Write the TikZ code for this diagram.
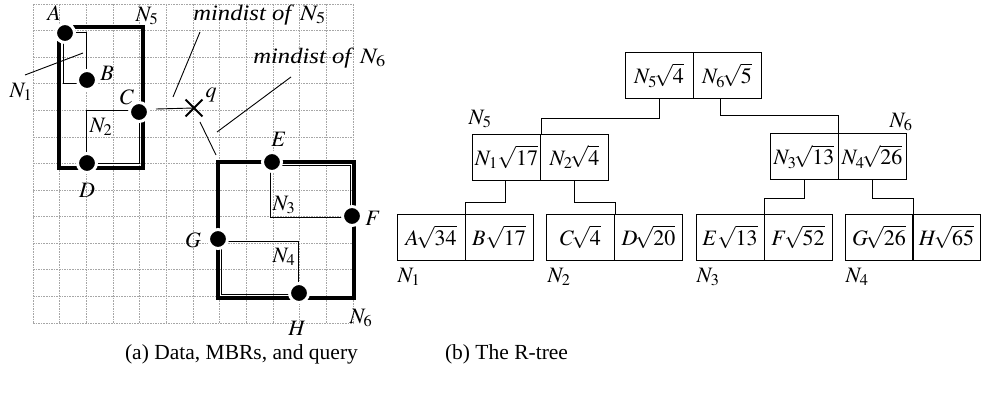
\documentclass[tikz,border=0pt]{standalone}
\usepackage{mathptmx}
\usepackage{fontspec}
\setmainfont{Liberation Serif}
\usetikzlibrary{shapes.misc,calc}
\newcommand{\widen}[1]{\scalebox{1.12}[1]{#1}}
\begin{document}
\begin{tikzpicture}[x=1pt,y=-1pt,
  every node/.style={font=\fontsize{22}{26}\selectfont, inner sep=0pt},
  capt/.style={font=\fontsize{21.5}{26}\selectfont},
  gridline/.style={gray!70, line width=0.8pt, dash pattern=on 1.6pt off 1pt},
  mbr/.style={line width=4pt, line join=miter},
  sub/.style={line width=0.9pt},
  dot/.style={circle, fill=black, draw=white, line width=3pt, minimum size=19pt},
  cell/.style={draw, line width=0.9pt, minimum width=68pt, minimum height=46pt},
  link/.style={line width=0.9pt}]
\useasboundingbox (0,0) rectangle (981,395);
% grid
\foreach \i in {0,...,12} {
  \draw[gridline] ({33+\i*26.667},4) -- ({33+\i*26.667},323);
  \draw[gridline] (33,{4+\i*26.583}) -- (353,{4+\i*26.583});
}
% MBRs
\draw[mbr] (59,27) rectangle (143,168);
\draw[mbr] (218,162) rectangle (354,298);
\draw[sub] (63.5,32) rectangle (86,83);
\draw[sub] (86,110) rectangle (139.5,163.5);
\draw[sub] (270,165.5) rectangle (350.5,217);
\draw[sub] (221.5,241) rectangle (298,294.5);
% leaders
\coordinate (m5a) at (200,32); \coordinate (m5b) at (173,97);
\coordinate (m6a) at (291,77); \coordinate (m6b) at (217,132);
\coordinate (n1a) at (25,75); \coordinate (n1b) at (83,53);
\coordinate (cq) at (156,109);
\coordinate (qa) at (200,122); \coordinate (qb) at (216,155);
\draw[sub] (m5a) -- (m5b);
\draw[sub] (m6a) -- (m6b);
\draw[sub] (n1a) -- (n1b);
\node[draw, cross out, minimum size=15pt, line width=1.8pt] (q) at (194,108) {};
\draw[sub] (cq) -- (q.center);
\draw[sub] (qa) -- (qb);
% points
\node[dot] (A) at (65,33) {};
\node[dot] (B) at (87,80) {};
\node[dot] (C) at (139,112) {};
\node[dot] (D) at (87,163) {};
\node[dot] (E) at (272,162) {};
\node[dot] (F) at (352,216) {};
\node[dot] (G) at (218,239) {};
\node[dot] (H) at (299,293) {};
% labels left
\node (lA) at (54,13) {$A$};
\node (lN5) at (147,16) {$N_5$};
\node (lm5) at (259.5,15) {\widen{\textit{mindist of} $N_5$}};
\node (lm6) at (319.5,58) {\widen{\textit{mindist of} $N_6$}};
\node (lN1) at (21,92) {$N_1$};
\node (lB) at (107,73) {$B$};
\node (lC) at (127,97) {$C$};
\node (lN2) at (101,127) {$N_2$};
\node (lD) at (87,190) {$D$};
\node (lq) at (211,95) {$q$};
\node (lE) at (279,139) {$E$};
\node (lN3) at (284,205) {$N_3$};
\node (lF) at (373,218) {$F$};
\node (lG) at (193,240) {$G$};
\node (lN4) at (284,257) {$N_4$};
\node (lH) at (297,328) {$H$};
\node (lN6) at (361,318) {$N_6$};
% tree
\node[cell] (r1) at (659,75.5) {$N_5\!\sqrt{4}$};
\node[cell] (r2) at (727,75.5) {$N_6\!\sqrt{5}$};
\node[cell] (a1) at (506.5,157) {$N_1\sqrt{17}$};
\node[cell] (a2) at (574.5,157) {$N_2\!\sqrt{4}$};
\node[cell] (b1) at (804,156.5) {$N_3\!\sqrt{13}$};
\node[cell] (b2) at (872,156.5) {$N_4\!\sqrt{26}$};
\node[cell] (l1) at (431,237) {$A\!\sqrt{34}$};
\node[cell] (l2) at (499,237) {$B\sqrt{17}$};
\node[cell] (l3) at (580.5,237) {$C\!\sqrt{4}$};
\node[cell] (l4) at (648.5,237) {$D\!\sqrt{20}$};
\node[cell] (l5) at (730,237) {$E\sqrt{13}$};
\node[cell] (l6) at (798,237) {$F\!\sqrt{52}$};
\node[cell] (l7) at (879,237) {$G\!\sqrt{26}$};
\node[cell] (l8) at (946.5,237) {$H\!\sqrt{65}$};
\draw[link] (r1.south) -- ++(0,20) -| (a1.north east);
\draw[link] ($(r2.south)+(-7,0)$) -- ++(0,17) -| (b1.north east);
\draw[link] ($(a1.south)+(-1,0)$) -- ++(0,22) -| (l1.north east);
\draw[link] (a2.south) -- ++(0,22) -| (l3.north east);
\draw[link] (b1.south) -- ++(0,19) -| (l5.north east);
\draw[link] (b2.south) -- ++(0,19) -| (l7.north east);
\node (tN5) at (480,119) {$N_5$};
\node (tN6) at (901,122) {$N_6$};
\node (tN1) at (409,277) {$N_1$};
\node (tN2) at (559,277) {$N_2$};
\node (tN3) at (708,277) {$N_3$};
\node (tN4) at (857,277) {$N_4$};
% captions
\node[capt] (ca) at (241.5,354) {(a) Data, MBRs, and query};
\node[capt] (cb) at (506.5,354) {(b) The R-tree};
\end{tikzpicture}
\end{document}
